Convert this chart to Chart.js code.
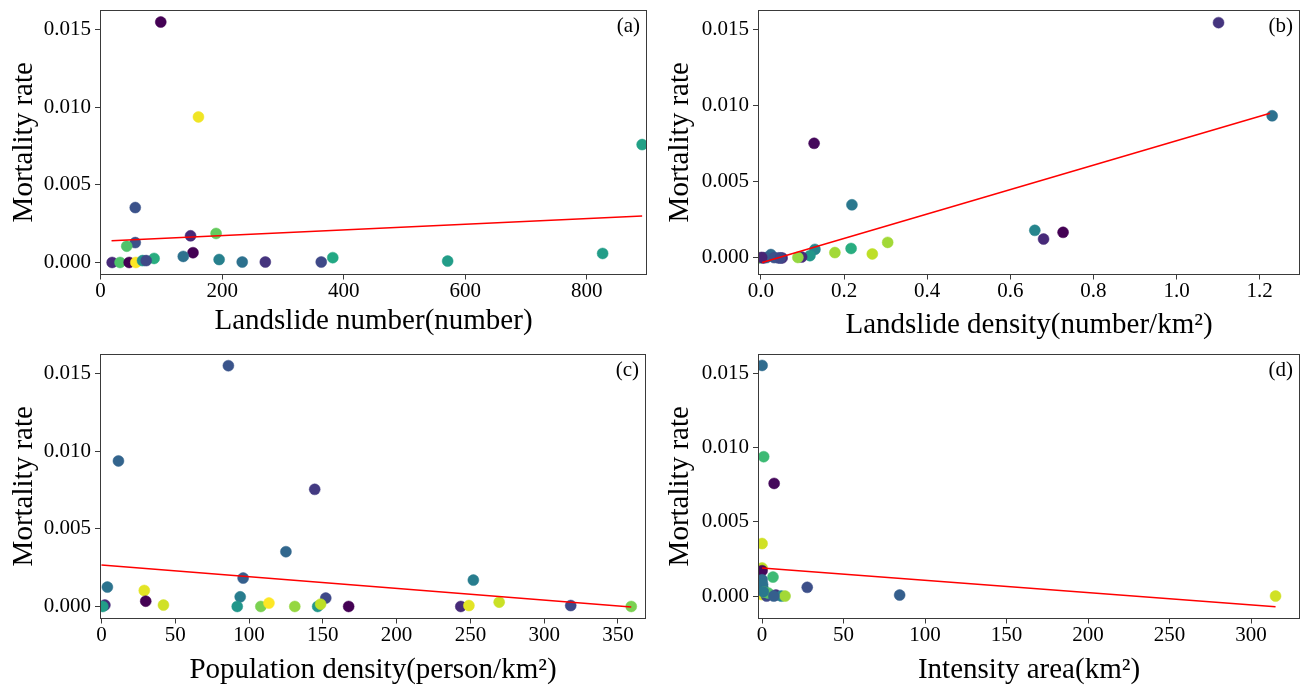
<!DOCTYPE html>
<html><head><meta charset="utf-8">
<script src="https://cdn.jsdelivr.net/npm/chart.js@4.4.1/dist/chart.umd.min.js"></script>
<style>
html,body{margin:0;padding:0;background:#fff;}
#wrap{position:relative;width:1306px;height:688px;overflow:hidden;background:#fff;}
canvas{position:absolute;}
</style></head><body>
<div id="wrap">
<canvas id="ca" width="653" height="344" style="left:0;top:0"></canvas>
<canvas id="cb" width="653" height="344" style="left:653px;top:0"></canvas>
<canvas id="cc" width="653" height="344" style="left:0;top:344px"></canvas>
<canvas id="cd" width="653" height="344" style="left:653px;top:344px"></canvas>
</div>
<script>
// ---------- DATA ----------
const yTicks = [0, 0.005, 0.010, 0.015];
const yLabels = ["0.000", "0.005", "0.010", "0.015"];

// (a) Landslide number
const aX = [99,161,891,57,57,43,148,190,152,136,88,382,826,571,195,233,271,363,19,32,47,58,69,75];
const aY = [0.0155,0.00938,0.0076,0.00354,0.00128,0.00105,0.00172,0.00187,0.00063,0.00039,0.00026,0.00031,0.00058,0.00009,0.00019,0.00003,0.00003,0.00003,0,0,0,0,0.00012,0.00012];
const aC = [0.0,0.98,0.57,0.25,0.25,0.72,0.12,0.76,0.0,0.37,0.62,0.6,0.55,0.55,0.43,0.37,0.15,0.22,0.12,0.72,0.0,1.0,0.5,0.22];
const aLineX = [18, 891];
const aLineY = [0.0014, 0.0030];
const aXTicks = [0, 200, 400, 600, 800];
const aXLabels = ["0", "200", "400", "600", "800"];

// (b) Landslide density
const bX = [1.101,1.230,0.128,0.219,0.659,0.680,0.727,0.305,0.178,0.268,0.217,0.130,0.118,0.098,0.089,-0.003,0.006,0.024,0.042,0.051,0.013,0.032,0.047,0.002];
const bY = [0.01546,0.00934,0.00753,0.00349,0.00181,0.00124,0.00168,0.00102,0.00035,0.00026,0.00062,0.00056,0.00015,0.00006,0.00003,0,0,0.00022,0,0,0.00002,0.00002,0,0.00003];
const bC = [0.15,0.37,0.02,0.4,0.45,0.12,0.0,0.86,0.86,0.9,0.62,0.45,0.52,0.12,0.84,0.76,0.02,0.35,0.2,0.12,0.3,0.25,0.22,0.1];
const bLineX = [0.003, 1.225];
const bLineY = [-0.0003, 0.0095];
const bXTicks = [0, 0.2, 0.4, 0.6, 0.8, 1.0, 1.2];
const bXLabels = ["0.0", "0.2", "0.4", "0.6", "0.8", "1.0", "1.2"];

// (c) Population density
const cX = [86,11.5,144.5,125,96,252,4,29,30,94,152,42,2.3,0.9,92,108,113.5,131,146.5,148.5,167.5,243.5,249,269.5,318,359];
const cY = [0.01552,0.00938,0.00755,0.00353,0.00183,0.0017,0.00125,0.00103,0.00034,0.00062,0.00054,0.00009,0.00009,0,0,0,0.00022,0,0,0.00015,0,0,0.00006,0.00028,0.00006,0];
const cC = [0.26,0.32,0.17,0.33,0.3,0.42,0.38,0.96,0.0,0.42,0.22,0.93,0.12,0.55,0.52,0.8,1.0,0.84,0.52,0.9,0.0,0.12,0.96,0.92,0.22,0.8];
const cLineX = [0, 359];
const cLineY = [0.00268, -0.00003];
const cXTicks = [0, 50, 100, 150, 200, 250, 300, 350];
const cXLabels = ["0", "50", "100", "150", "200", "250", "300", "350"];

// (d) Intensity area
const dX = [0,1.0,7.4,0,0,0,6.7,27.7,84.4,315,0,0.5,0,2.8,3.8,8.5,11.8,14.1,0.3,1.3,7.2,0.8];
const dY = [0.01554,0.00939,0.00759,0.00354,0.00189,0.00171,0.00128,0.00059,0.00007,0,0.0011,0.00054,0.0001,0,0.0002,0.00007,0,0,0.0008,0.00027,0,0.0003];
const dC = [0.35,0.68,0.02,0.93,0.9,0.02,0.68,0.24,0.3,0.93,0.35,0.38,0.95,0.22,0.72,0.15,0.45,0.86,0.37,0.78,0.3,0.4];
const dLineX = [0, 315];
const dLineY = [0.00189, -0.00072];
const dXTicks = [0, 50, 100, 150, 200, 250, 300];
const dXLabels = ["0", "50", "100", "150", "200", "250", "300"];

// ---------- STYLE / HELPERS ----------
const VIRIDIS = ['#440154','#482475','#414487','#355f8d','#2a788e','#21918c','#22a884','#44bf70','#7ad151','#bddf26','#fde725'];
function hexToRgb(h){return [parseInt(h.slice(1,3),16),parseInt(h.slice(3,5),16),parseInt(h.slice(5,7),16)];}
function viridis(t){
  t=Math.max(0,Math.min(1,t));
  const p=t*10, i=Math.min(9,Math.floor(p)), f=p-i;
  const a=hexToRgb(VIRIDIS[i]), b=hexToRgb(VIRIDIS[i+1]);
  const c=a.map((v,k)=>Math.round(v+(b[k]-v)*f));
  return 'rgb('+c.join(',')+')';
}
const FONT = '"Liberation Serif", "Times New Roman", serif';
const AX = '#3a3a3a';

const framePlugin = {
  id: 'frame',
  afterDraw(chart, args, opts) {
    const {ctx, chartArea: a} = chart;
    ctx.save();
    ctx.strokeStyle = AX; ctx.lineWidth = 1;
    ctx.strokeRect(Math.round(a.left) + 0.5, Math.round(a.top) + 0.5, Math.round(a.right - a.left) - 1, Math.round(a.bottom - a.top) - 1);
    ctx.font = '21px ' + FONT; ctx.fillStyle = '#000';
    ctx.textAlign = 'right'; ctx.textBaseline = 'middle';
    ctx.fillText(opts.label, a.right - 7, a.top + 16);
    ctx.restore();
  }
};

function makeChart(id, p) {
  const pts = p.xs.map((x, i) => ({x: x, y: p.ys[i]}));
  const cols = p.cs.map(viridis);
  const line = p.lx.map((x, i) => ({x: x, y: p.ly[i]}));
  new Chart(document.getElementById(id), {
    type: 'scatter',
    data: {
      datasets: [
        {type: 'line', data: line, borderColor: '#ff0000', borderWidth: 1.5, pointRadius: 0, fill: false, clip: 0},
        {type: 'scatter', data: pts, pointRadius: 5.5, pointBackgroundColor: cols, pointBorderColor: cols, pointBorderWidth: 0.5, clip: 0}
      ]
    },
    options: {
      responsive: false, animation: false, devicePixelRatio: 1,
      layout: {padding: {left: 0, right: p.padR, top: p.padT, bottom: 0}},
      plugins: {legend: {display: false}, tooltip: {enabled: false}, frame: {label: p.label}},
      scales: {
        x: {
          type: 'linear', min: p.xMin, max: p.xMax,
          afterBuildTicks: s => { s.ticks = p.xt.map(v => ({value: v})); },
          afterFit: s => { s.height = p.xH; s.paddingLeft = 0; s.paddingRight = 0; },
          ticks: {autoSkip: false, maxRotation: 0, padding: 1, color: '#000',
            font: {family: FONT, size: 21, lineHeight: 1.0},
            callback: (v, i) => p.xl[i]},
          grid: {drawOnChartArea: false, drawTicks: true, tickLength: 5, color: AX, tickWidth: 1},
          border: {display: false},
          title: {display: true, text: p.xTitle, color: '#000', font: {family: FONT, size: 29}, padding: {top: 0, bottom: p.xTitlePad}}
        },
        y: {
          type: 'linear', min: p.yMin, max: p.yMax,
          afterBuildTicks: s => { s.ticks = yTicks.map(v => ({value: v})); },
          afterFit: s => { s.width = p.yW; s.paddingTop = 0; s.paddingBottom = 0; },
          ticks: {autoSkip: false, padding: 4, color: '#000',
            font: {family: FONT, size: 21, lineHeight: 1.0},
            callback: (v, i) => yLabels[i]},
          grid: {drawOnChartArea: false, drawTicks: true, tickLength: 5, color: AX, tickWidth: 1},
          border: {display: false},
          title: {display: true, text: 'Mortality rate', color: '#000', font: {family: FONT, size: 29}, padding: {top: p.yTitlePad, bottom: 0}}
        }
      }
    },
    plugins: [framePlugin]
  });
}

makeChart('ca', {xs: aX, ys: aY, cs: aC, lx: aLineX, ly: aLineY, xt: aXTicks, xl: aXLabels,
  xMin: -1, xMax: 899, yMin: -0.000775, yMax: 0.016275, label: '(a)', xTitle: 'Landslide number(number)',
  yW: 100, xH: 69.5, padR: 6, padT: 10, yTitlePad: 6.6, xTitlePad: 5.6});
makeChart('cb', {xs: bX, ys: bY, cs: bC, lx: bLineX, ly: bLineY, xt: bXTicks, xl: bXLabels,
  xMin: -0.007, xMax: 1.297, yMin: -0.00109, yMax: 0.01629, label: '(b)', xTitle: 'Landslide density(number/km²)',
  yW: 105, xH: 69.5, padR: 4, padT: 10, yTitlePad: 9.6, xTitlePad: 1.6});
makeChart('cc', {xs: cX, ys: cY, cs: cC, lx: cLineX, ly: cLineY, xt: cXTicks, xl: cXLabels,
  xMin: -1, xMax: 369, yMin: -0.000775, yMax: 0.016275, label: '(c)', xTitle: 'Population density(person/km²)',
  yW: 100, xH: 69.5, padR: 7, padT: 10, yTitlePad: 6.6, xTitlePad: 0.6});
makeChart('cd', {xs: dX, ys: dY, cs: dC, lx: dLineX, ly: dLineY, xt: dXTicks, xl: dXLabels,
  xMin: -2.5, xMax: 330, yMin: -0.00151, yMax: 0.01631, label: '(d)', xTitle: 'Intensity area(km²)',
  yW: 105, xH: 69.5, padR: 4, padT: 10, yTitlePad: 9.6, xTitlePad: 0.6});
</script>
</body></html>
